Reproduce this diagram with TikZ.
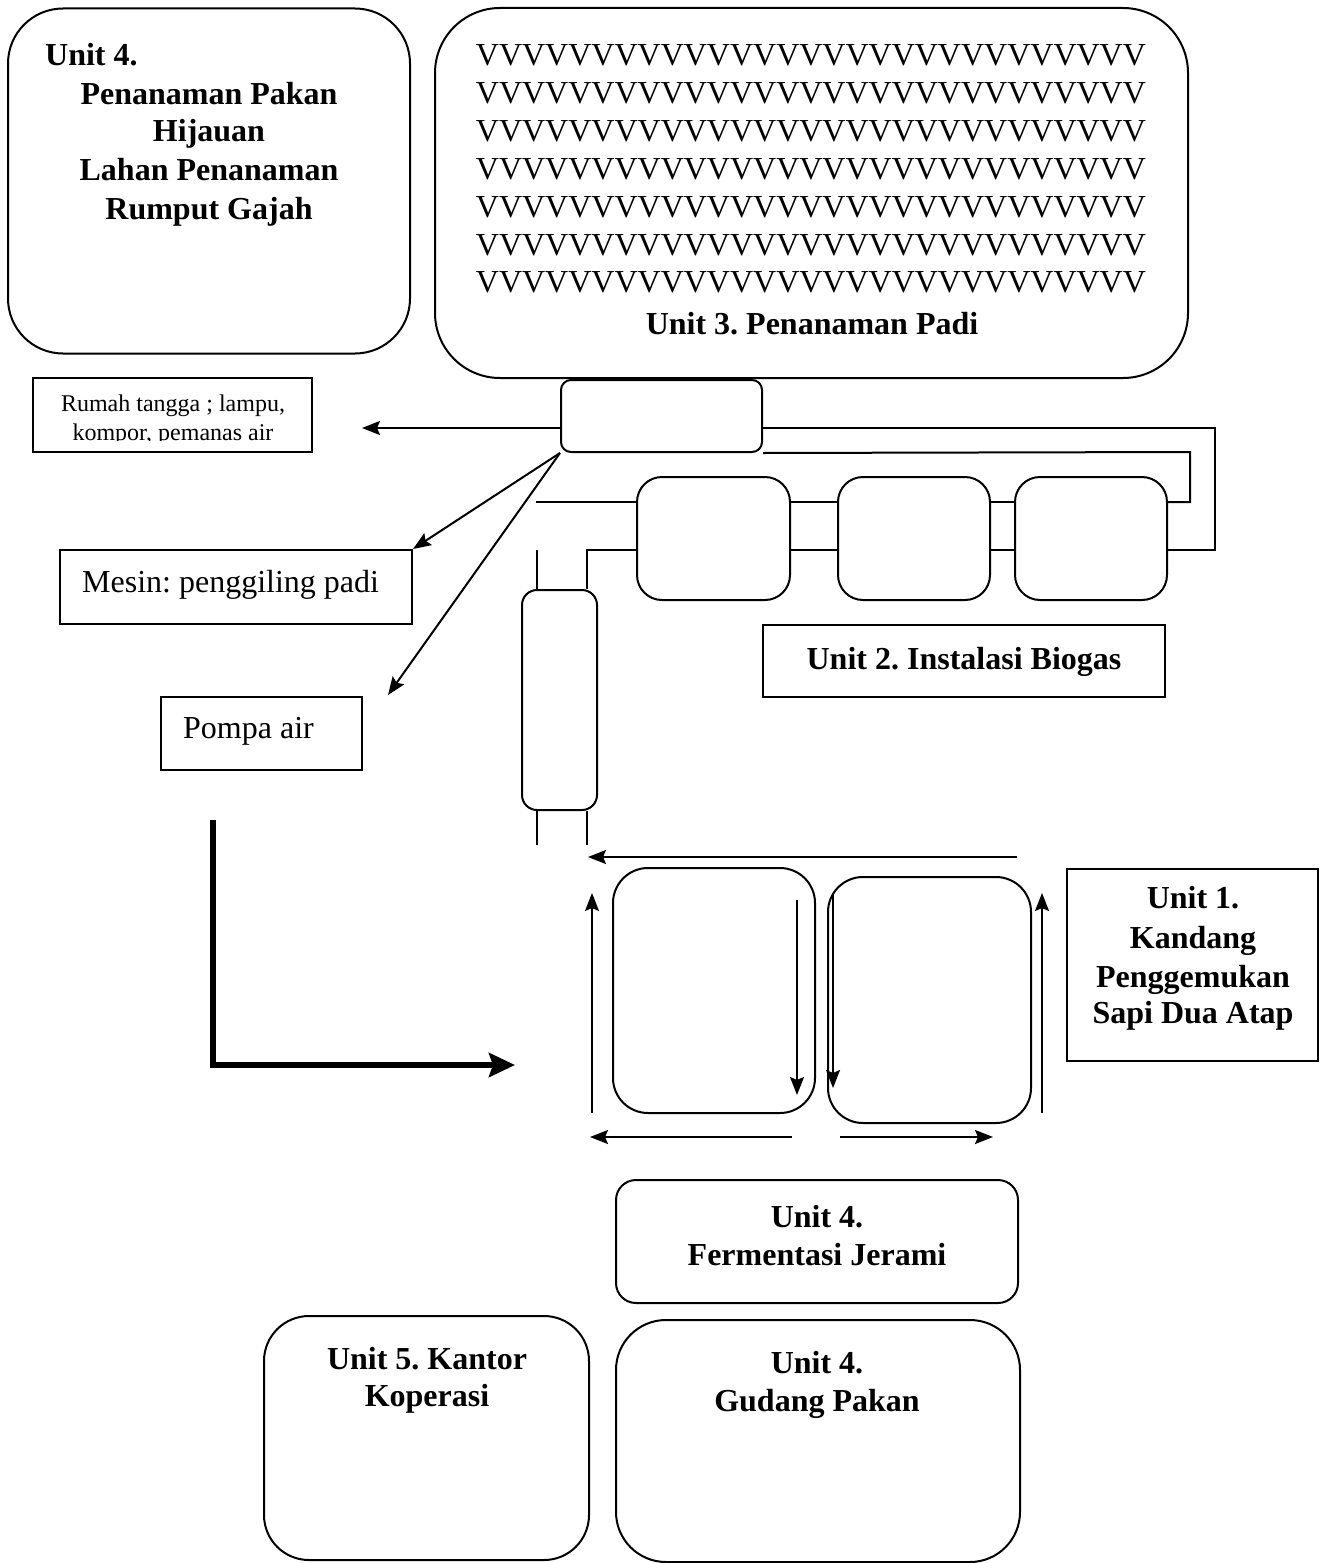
\documentclass[tikz,border=0pt]{standalone}
\usepackage{fontspec}
\setmainfont{Liberation Serif}
\usetikzlibrary{arrows.meta}
\frenchspacing
\newcommand{\vrow}{VVVVVVVVVVVVVVVVVVVVVVVVVVVVV}
\begin{document}
\begin{tikzpicture}
[x=1pt,y=-1pt,
 roundbox/.style={draw,line width=2pt,rounded corners=#1,inner sep=0pt},
 plainbox/.style={draw,line width=2pt,inner sep=0pt},
 pipe/.style={line width=2pt},
 flow/.style={line width=2pt,-{Stealth[length=18pt,width=14pt,inset=3pt]}},
 bigflow/.style={line width=6pt,line join=miter,-{Stealth[length=26pt,width=24pt,inset=4pt]}},
 boldtext/.style={font=\bfseries\fontsize{32}{38}\selectfont,inner sep=0pt},
 plaintext/.style={font=\fontsize{32}{38}\selectfont,inner sep=0pt},
 smalltext/.style={font=\fontsize{24}{28}\selectfont,inner sep=0pt}]
\useasboundingbox (0,0) rectangle (1326,1563);
%% rounded units
\foreach \bname/\bx/\by/\bw/\bh/\br in {u4hijau/209/181/402/345/55, u3padi/811.5/193/753/370/65,
  gas/661.5/416/201/72/10, dig1/713.5/538.5/153/123/25, dig2/914/538.5/152/123/25,
  dig3/1091/538.5/152/123/25, tabung/559.5/700/75/220/15, pen1/714/990.5/202/245/35,
  pen2/929.5/1000/203/246/35, ferm/817/1241.5/402/123/20, kantor/426.5/1438/325/244/45,
  gudang/818/1441/404/242/50} {
  \node (\bname) at (\bx,\by) [roundbox=\br pt,minimum width=\bw pt,minimum height=\bh pt] {};
}
%% square boxes
\foreach \bname/\bx/\by/\bw/\bh in {rumah/172.5/415/279/74, mesin/236/587/352/74,
  pompa/261.5/733.5/201/73, u2/964/661/402/72, u1/1192.5/965/251/192} {
  \node (\bname) at (\bx,\by) [plainbox,minimum width=\bw pt,minimum height=\bh pt] {};
}
%% bend points and loose ends
\foreach \pname/\x/\y in {rumahin/362/428, pompain/388/695, ka/1215/428, kb/1215/550,
  kc/1190/452, kd/1190/502, la/536/502, lb/587/550, lc/537/550, ld/537/845, le/587/845,
  ta/213/820, tb/213/1065, tc/515/1065,
  p1s/1017/857, p1e/588/857, p2s/592/1113, p2e/592/893, p3s/797/900, p3e/797/1095,
  p4s/833/895, p4e/833/1088, p5s/1042/1113, p5e/1042/893, p6s/792/1137, p6e/590/1137,
  p7s/840/1137, p7e/993/1137} {
  \coordinate (\pname) at (\x,\y);
}
%% gas pipes
\draw[pipe] ([yshift=-12pt]gas.east) -- (ka) -- (kb) -- (kb -| dig3.east);
\draw[pipe] (gas.south east) -- (kc) -- (kd) -- (kd -| dig3.east);
\foreach \a/\b in {dig1/dig2, dig2/dig3} {
  \draw[pipe] (\a.east |- kd) -- (\b.west |- kd);
  \draw[pipe] (\a.east |- kb) -- (\b.west |- kb);
}
\draw[pipe] (la) -- (la -| dig1.west);
\draw[pipe] (dig1.west |- kb) -- (lb) -- (lb |- tabung.north);
\draw[pipe] (lc) -- (lc |- tabung.north);
\draw[pipe] (ld |- tabung.south) -- (ld);
\draw[pipe] (le |- tabung.south) -- (le);
%% gas use
\draw[flow] ([yshift=-12pt]gas.west) -- (rumahin);
\draw[flow] (gas.south west) -- (mesin.north east);
\draw[flow] (gas.south west) -- (pompain);
%% flows round the pens
\path
\foreach \startnode/\endnode in {p1s/p1e, p2s/p2e, p3s/p3e, p4s/p4e, p5s/p5e, p6s/p6e, p7s/p7e} {
  (\startnode) edge[flow] (\endnode)
};
\draw[bigflow] (ta) -- (tb) -- (tc);
%% labels
\node (hijau0) [boldtext,anchor=base west] at (45,66) {Unit 4.};
\foreach \tname/\tx/\ty/\ttext in {hijau1/209/104/Penanaman Pakan, hijau2/209/141/Hijauan,
  hijau3/209/180/Lahan Penanaman, hijau4/209/219/Rumput Gajah,
  padi/812/334/Unit 3. Penanaman Padi, biogas/964/669/Unit 2. Instalasi Biogas,
  kandang1/1193/908/Unit 1., kandang2/1193/948/Kandang, kandang3/1193/987/Penggemukan,
  kandang4/1193/1023/Sapi Dua Atap, ferm1/817/1227/Unit 4., ferm2/817/1265/Fermentasi Jerami,
  kantor1/427/1369/Unit 5. Kantor, kantor2/427/1406/Koperasi,
  gudang1/817/1373/Unit 4., gudang2/817/1411/Gudang Pakan} {
  \node (\tname) [boldtext,anchor=base] at (\tx,\ty) {\ttext};
}
\foreach \i in {0,...,6} {
  \node (vrow\i) [plaintext,anchor=base] at (811,{66+37.8*\i}) {\vrow};
}
\node (mesintxt) [plaintext,anchor=base west] at (82,592) {Mesin: penggiling padi};
\node (pompatxt) [plaintext,anchor=base west] at (183,738) {Pompa air};
\node (rumah1) [smalltext,anchor=base] at (173,411) {Rumah tangga ; lampu,};
\begin{scope}
\clip (rumah.north west) rectangle ([yshift=13pt]rumah.south east);
\node (rumah2) [smalltext,anchor=base] at (173,440) {kompor, pemanas air};
\end{scope}
\end{tikzpicture}
\end{document}
